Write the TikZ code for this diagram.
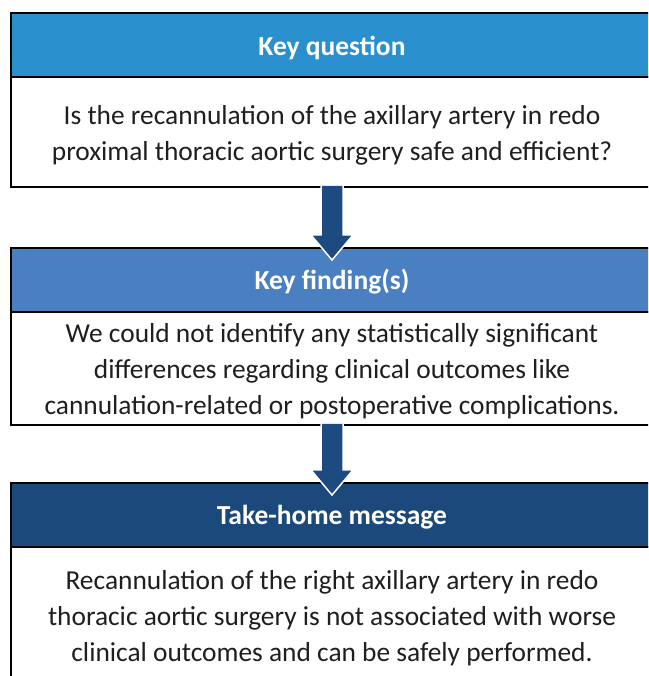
\documentclass[tikz,border=0pt]{standalone}
\usepackage{fontspec}
\setmainfont{Carlito}
\definecolor{headA}{RGB}{41,143,205}
\definecolor{headB}{RGB}{74,128,194}
\definecolor{headC}{RGB}{28,73,124}
\definecolor{arrowcol}{RGB}{30,74,130}
\tikzset{
  header/.style={draw=black, line width=2pt, anchor=north west, minimum width=670pt,
    minimum height=64pt, inner sep=0pt, outer sep=0pt},
  headtext/.style={text=white, inner sep=0pt, font=\fontsize{27.5}{31}\selectfont\bfseries},
  bodybox/.style={draw=black, line width=2pt, fill=white, anchor=north west, minimum width=670pt,
    inner sep=0pt, outer sep=0pt},
  bodytext/.style={align=center, inner sep=0pt, text=black!88, font=\fontsize{27.4}{35.8}\selectfont},
  blockarrow/.style={fill=arrowcol, draw=white, line width=1.5pt, line join=miter}
}
\begin{document}
\begin{tikzpicture}[x=1pt,y=1pt]
\useasboundingbox (0,0) rectangle (648,676);
\clip (0,0) rectangle (648,676);
\fill[white] (0,0) rectangle (648,676);
% box 1
\node[bodybox, minimum height=110pt] (b1) at (11,599) {};
\node[header, fill=headA] (h1) at (11,663) {};
\node[headtext] (t1) at (332,628) {Key question};
\node[bodytext] (x1) at (332,541) {Is the recannulation of the axillary artery in redo\\proximal thoracic aortic surgery safe and efficient?};
% box 2
\node[bodybox, minimum height=113pt] (b2) at (11,364) {};
\node[header, fill=headB] (h2) at (11,428) {};
\node[headtext] (t2) at (332,394) {Key finding(s)};
\node[bodytext] (x2) at (332,305) {We could not identify any statistically significant\\differences regarding clinical outcomes like\\cannulation-related or postoperative complications.};
% box 3
\node[bodybox, minimum height=139pt] (b3) at (11,129) {};
\node[header, fill=headC] (h3) at (11,193) {};
\node[headtext] (t3) at (332,159) {Take-home message};
\node[bodytext] (x3) at (332,58) {Recannulation of the right axillary artery in redo\\thoracic aortic surgery is not associated with worse\\clinical outcomes and can be safely performed.};
% arrows
\coordinate (a1s) at (332,490);
\coordinate (a1t) at (332,416);
\coordinate (a2s) at (332,252);
\coordinate (a2t) at (332,181);
\draw[blockarrow] ([xshift=-11pt]a1s) -- ([xshift=-11pt,yshift=25pt]a1t) -- ([xshift=-21pt,yshift=25pt]a1t) -- (a1t) -- ([xshift=21pt,yshift=25pt]a1t) -- ([xshift=11pt,yshift=25pt]a1t) -- ([xshift=11pt]a1s);
\draw[blockarrow] ([xshift=-11pt]a2s) -- ([xshift=-11pt,yshift=25pt]a2t) -- ([xshift=-21pt,yshift=25pt]a2t) -- (a2t) -- ([xshift=21pt,yshift=25pt]a2t) -- ([xshift=11pt,yshift=25pt]a2t) -- ([xshift=11pt]a2s);
\end{tikzpicture}
\end{document}
